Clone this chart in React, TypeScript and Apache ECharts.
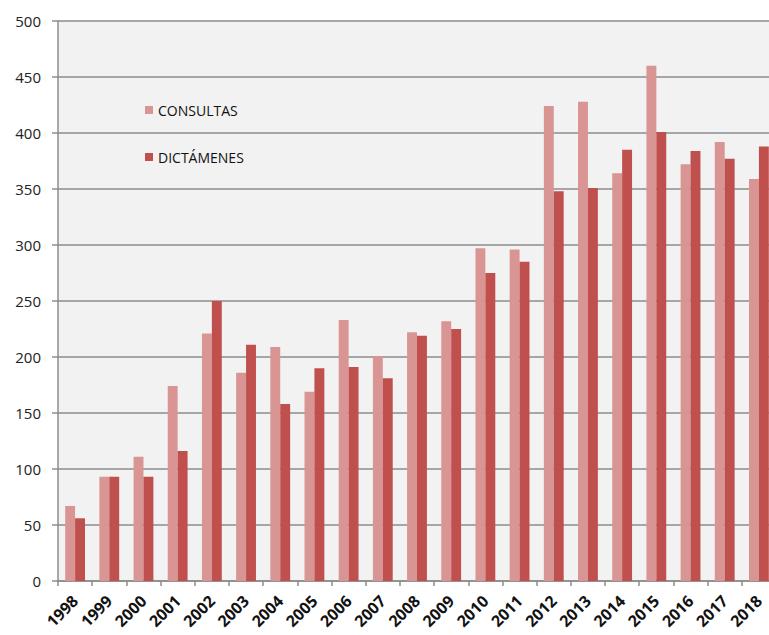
import React, { useEffect, useRef } from "react";
import * as echarts from "echarts";

const years = ["1998","1999","2000","2001","2002","2003","2004","2005","2006","2007","2008","2009","2010","2011","2012","2013","2014","2015","2016","2017","2018"];
const consultas = [67, 93, 111, 174, 221, 186, 209, 169, 233, 201, 222, 232, 297, 296, 424, 428, 364, 460, 372, 392, 359];
const dictamenes = [56, 93, 93, 116, 250, 211, 158, 190, 191, 181, 219, 225, 275, 285, 348, 351, 385, 401, 384, 377, 388];

const FONT = "'Open Sans', 'Noto Sans', sans-serif";

export default function App() {
  const ref = useRef<HTMLDivElement>(null);
  useEffect(() => {
    if (!ref.current) return;
    const chart = echarts.init(ref.current, null, { renderer: "svg" });
    chart.setOption({
      animation: false,
      backgroundColor: "#ffffff",
      grid: {
        left: 58,
        top: 21,
        bottom: 54,
        right: 0,
        show: true,
        backgroundColor: "#f2f2f2",
        borderWidth: 0,
        containLabel: false,
      },
      legend: {
        orient: "vertical",
        left: 140,
        top: 98,
        itemWidth: 8,
        itemHeight: 8,
        itemGap: 33,
        icon: "rect",
        textStyle: { fontFamily: FONT, fontSize: 14, color: "#111" },
        data: ["CONSULTAS", "DICTÁMENES"],
      },
      xAxis: {
        type: "category",
        data: years,
        axisLine: { lineStyle: { color: "#8c8c8c", width: 1.5 } },
        axisTick: { show: true, length: 5, lineStyle: { color: "#8c8c8c", width: 1.5 } },
        axisLabel: {
          rotate: 45,
          interval: 0,
          fontFamily: FONT,
          fontSize: 16,
          fontWeight: "bold",
          color: "#111",
          margin: 17,
        },
      },
      yAxis: {
        type: "value",
        min: 0,
        max: 500,
        interval: 50,
        axisLine: { show: true, lineStyle: { color: "#8c8c8c", width: 1.5 } },
        axisTick: { show: true, length: 6, lineStyle: { color: "#8c8c8c", width: 1.5 } },
        splitLine: { show: true, lineStyle: { color: "#8c8c8c", width: 1.5 } },
        axisLabel: { fontFamily: FONT, fontSize: 15, color: "#222", margin: 17 },
      },
      series: [
        {
          name: "CONSULTAS",
          type: "bar",
          data: consultas,
          itemStyle: { color: "#d99593" },
          barGap: "0%",
          barCategoryGap: "42%",
        },
        {
          name: "DICTÁMENES",
          type: "bar",
          data: dictamenes,
          itemStyle: { color: "#c0504d" },
          barGap: "0%",
          barCategoryGap: "42%",
        },
      ],
    });
    return () => chart.dispose();
  }, []);
  return (
    <div style={{ position: "fixed", left: 0, top: 0, width: 769, height: 635, overflow: "hidden" }}>
      <div ref={ref} style={{ position: "absolute", left: 0, top: 0, width: 776, height: 635 }} />
    </div>
  );
}
